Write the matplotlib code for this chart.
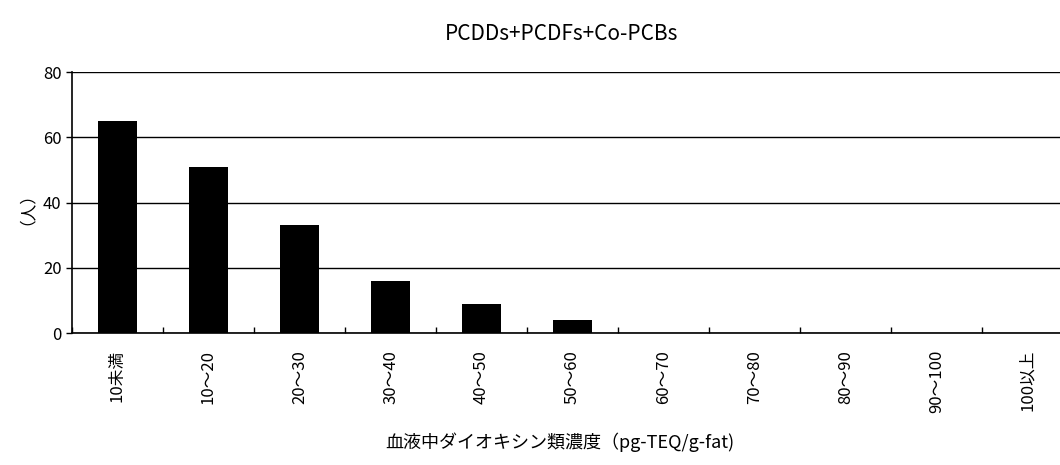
import matplotlib
matplotlib.use('Agg')
import matplotlib.pyplot as plt
import numpy as np

plt.rcParams['font.family'] = ['Noto Sans CJK JP', 'DejaVu Sans']

#data
categories = ['10未満', '10～20', '20～30', '30～40', '40～50', '50～60',
              '60～70', '70～80', '80～90', '90～100', '100以上']
counts = [65, 51, 33, 16, 9, 4, 0, 0, 0, 0, 0]

fig = plt.figure(figsize=(10.6, 4.65), dpi=100)
ax = fig.add_axes([72/1060, 1-333/465, 1001/1060, 261/465])

x = np.arange(len(categories))
ax.bar(x, counts, width=0.42, color='black', zorder=3)

ax.set_xlim(-0.5, len(categories)-0.5)
ax.set_ylim(0, 80)
ax.set_yticks([0, 20, 40, 60, 80])
ax.yaxis.grid(True, color='black', linewidth=1.0)
ax.set_axisbelow(True)

ax.set_xticks(x)
ax.set_xticklabels(categories, rotation=90, fontsize=12)
ax.set_xticks(np.arange(len(categories)+1)-0.5, minor=True)
ax.tick_params(axis='x', which='major', length=0, pad=12)
ax.tick_params(axis='x', which='minor', direction='in', length=4, width=1)
ax.tick_params(axis='y', length=4, width=1, labelsize=12)

for s in ['top', 'right']:
    ax.spines[s].set_visible(False)
for s in ['left', 'bottom']:
    ax.spines[s].set_linewidth(1.2)
    ax.spines[s].set_color('black')

fig.text(0.53, 1-34/465, 'PCDDs+PCDFs+Co-PCBs', ha='center', va='center', fontsize=15)
fig.text(18/1060, 1-200/465, '（人）', rotation=90, ha='center', va='center', fontsize=12)
fig.text(560/1060, 1-442/465, '血液中ダイオキシン類濃度（pg-TEQ/g-fat)', ha='center', va='center', fontsize=13)

fig.savefig('out.png', dpi=100)
